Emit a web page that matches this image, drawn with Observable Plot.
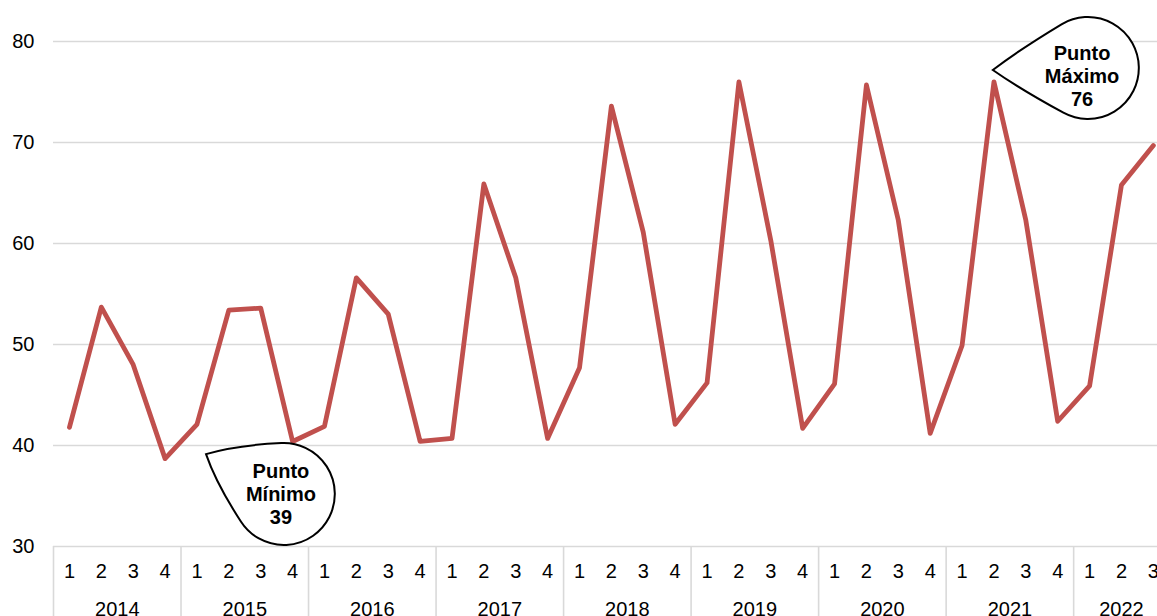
<!DOCTYPE html>
<html>
<head>
<meta charset="utf-8">
<script src="https://cdn.jsdelivr.net/npm/d3@7"></script>
<script src="https://cdn.jsdelivr.net/npm/@observablehq/plot@0.6"></script>
<style>
  html, body { margin: 0; padding: 0; background: #fff; overflow: hidden; }
  #chart svg { display: block; }
</style>
</head>
<body>
<div id="chart"></div>
<script>
// ---- Data ----
const years = ["2014","2015","2016","2017","2018","2019","2020","2021","2022"];
const quarterLabels = ["1","2","3","4"];
const values = [
  41.8, 53.7, 48.0, 38.7,
  42.1, 53.4, 53.6, 40.4,
  41.9, 56.6, 53.0, 40.4,
  40.7, 65.9, 56.6, 40.7,
  47.7, 73.6, 61.1, 42.1,
  46.2, 76.0, 60.3, 41.7,
  46.1, 75.7, 62.3, 41.2,
  49.9, 76.0, 62.3, 42.4,
  45.9, 65.8, 69.7
];
const yTicks = [30, 40, 50, 60, 70, 80];
// callouts: tip, bubble centre and text anchor in data coordinates (quarter index, value)
const callouts = [
  {lines: ["Punto", "Mínimo", "39"], tipI: 4.30, tipV: 39.1, cI: 6.74, cV: 35.15, tI: 6.65, tV: 35.15},
  {lines: ["Punto", "Máximo", "76"], tipI: 28.98, tipV: 77.13, cI: 31.96, cV: 77.33, tI: 31.78, tV: 76.53}
];

// ---- Derived tables ----
const series = values.map((v, i) => ({i, v}));
const quarters = values.map((v, i) => ({i, q: quarterLabels[i % 4]}));
const yearRows = years.map((y, k) => {
  const idx = series.filter(d => Math.floor(d.i / 4) === k).map(d => d.i);
  return {year: y, center: d3.mean(idx), sep: k * 4 - 0.5};
});

const W = 1157, H = 616;
const font = "'Liberation Sans', Arial, sans-serif";
const FS = 20;

const chart = Plot.plot({
  width: W,
  height: H,
  marginLeft: 53,
  marginRight: 0,
  marginTop: 41,
  marginBottom: 70,
  style: {fontFamily: font, fontSize: FS + "px", color: "#000", background: "#fff"},
  x: {type: "linear", domain: [-0.5, 34.13], axis: null},
  y: {domain: [30, 80], ticks: yTicks, tickSize: 0, tickPadding: 19, label: null, tickFormat: d => String(d)},
  marks: [
    Plot.ruleY(yTicks, {stroke: "#d9d9d9", strokeWidth: 1.6}),
    Plot.ruleX(yearRows, {x: "sep", y1: 30, y2: 22, stroke: "#d9d9d9", strokeWidth: 1.6}),
    Plot.text(quarters, {x: "i", y: 30, text: "q", dy: 25.5, fill: "#000", fontSize: FS, fontFamily: font}),
    Plot.text(yearRows, {x: "center", y: 30, text: "year", dy: 63, fill: "#000", fontSize: FS, fontFamily: font}),
    Plot.line(series, {x: "i", y: "v", stroke: "#C0504D", strokeWidth: 4.8, strokeLinejoin: "round"})
  ]
});

document.getElementById("chart").appendChild(chart);

const svg = d3.select(chart);
// enlarge y-axis tick labels
svg.selectAll("g[aria-label^='y-axis']")
  .attr("font-size", FS).style("font-size", FS + "px").attr("font-family", font);
svg.selectAll("g[aria-label^='y-axis'] text")
  .attr("font-size", FS).style("font-size", FS + "px").attr("fill", "#000");

// ---- Callout bubbles ----
const xs = chart.scale("x"), ys = chart.scale("y");
const R = 51;
function bubblePath(cx, cy, tx, ty, spread) {
  const phi = Math.atan2(ty - cy, tx - cx);
  const a1 = phi + spread, a2 = phi - spread;
  const A = [cx + R * Math.cos(a1), cy + R * Math.sin(a1)];
  const B = [cx + R * Math.cos(a2), cy + R * Math.sin(a2)];
  const dA = Math.hypot(tx - A[0], ty - A[1]);
  const dB = Math.hypot(tx - B[0], ty - B[1]);
  const tB = [-Math.sin(a2), Math.cos(a2)];
  const tA = [Math.sin(a1), -Math.cos(a1)];
  const k = 0.6;
  const cA = [A[0] + tA[0] * dA * k, A[1] + tA[1] * dA * k];
  const cB = [B[0] + tB[0] * dB * k, B[1] + tB[1] * dB * k];
  return `M${A[0]},${A[1]} A${R},${R} 0 1 1 ${B[0]},${B[1]} Q${cB[0]},${cB[1]} ${tx},${ty} Q${cA[0]},${cA[1]} ${A[0]},${A[1]} Z`;
}
const g = svg.append("g").attr("aria-label", "callouts");
callouts.forEach(c => {
  const cx = xs.apply(c.cI), cy = ys.apply(c.cV);
  const tx = xs.apply(c.tipI), ty = ys.apply(c.tipV);
  g.append("path")
    .attr("d", bubblePath(cx, cy, tx, ty, 1.05))
    .attr("fill", "#fff")
    .attr("stroke", "#000")
    .attr("stroke-width", 2)
    .attr("stroke-linejoin", "miter");
  const t = g.append("text")
    .attr("text-anchor", "middle")
    .attr("font-family", font)
    .attr("font-weight", "bold")
    .attr("font-size", 20)
    .style("font-size", "20px")
    .attr("fill", "#000");
  const txp = xs.apply(c.tI), typ = ys.apply(c.tV);
  c.lines.forEach((ln, k) => {
    t.append("tspan")
      .attr("x", txp)
      .attr("y", typ - 23 + k * 23)
      .attr("dy", "0.35em")
      .text(ln);
  });
});
</script>
</body>
</html>
